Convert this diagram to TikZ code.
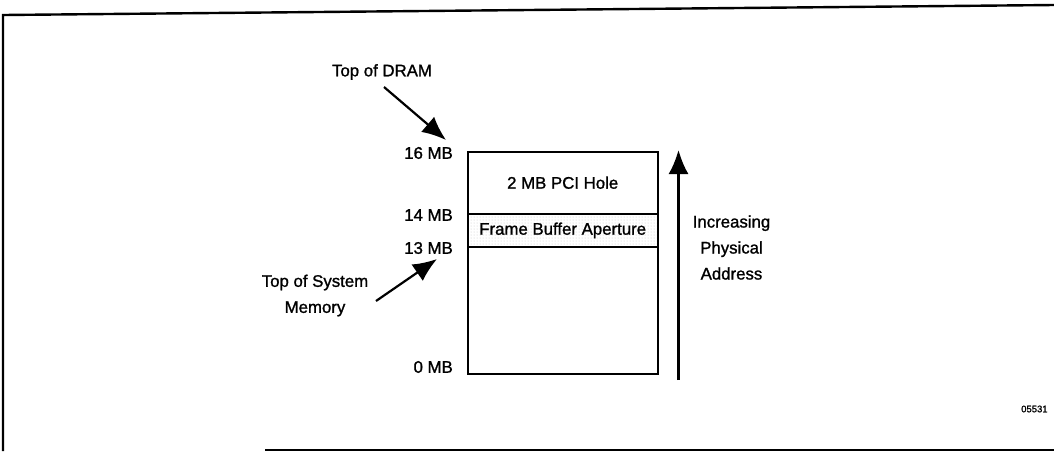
\documentclass[tikz,border=0pt]{standalone}
\usepackage{fontspec}
\setmainfont[FakeBold=1.2]{Liberation Sans}
\usetikzlibrary{arrows.meta,patterns}
\begin{document}
\begin{tikzpicture}[x=1pt,y=-1pt,
  lbl/.style={font=\fontsize{16.8}{26}\selectfont, inner sep=0pt, align=center},
  region/.style={draw, line width=2pt, minimum width=190pt, anchor=north west, inner sep=0pt},
  bigarrow/.style={line width=2.2pt, -{Latex[length=24pt,width=20pt]}},
  frame/.style={line width=2.4pt}]
\useasboundingbox (0,0) rectangle (1054,451);
% outer frame
\draw[frame] (3,451) -- (3,15) -- (1054,5);
\draw[frame] (265,450) -- (1054,450);
% memory map
\node[region, minimum height=62pt] (hole) at (466.7,150.7) {};
\node[region, minimum height=33.3pt, pattern=dots, pattern color=gray!45] (fba) at (466.7,212.7) {};
\node[region, minimum height=127pt] (sys) at (466.7,246) {};
\node[lbl] (holet) at (hole.center) {2 MB PCI Hole};
\node[lbl] (fbat) at (fba.center) {Frame Buffer Aperture};
% address labels
\node[lbl, anchor=east] (m16) at (453,153) {16 MB};
\node[lbl, anchor=east] (m14) at (453,215) {14 MB};
\node[lbl, anchor=east] (m13) at (453,248) {13 MB};
\node[lbl, anchor=east] (m0) at (453,367) {0 MB};
% pointers
\node[lbl] (dram) at (382,72) {Top of DRAM};
\coordinate (dramtail) at (384,87);
\coordinate (dramtip) at (446,140);
\draw[bigarrow] (dramtail) -- (dramtip);
\node[lbl] (sysmem) at (315,295.5) {Top of System\\Memory};
\coordinate (systail) at (376,301);
\coordinate (systip) at (437,259);
\draw[bigarrow] (systail) -- (systip);
% increasing address
\coordinate (upbot) at (678.5,380);
\coordinate (uptop) at (678.5,150);
\draw[bigarrow] (upbot) -- (uptop);
\node[lbl] (incr) at (731.5,247.5) {Increasing\\Physical\\Address};
% figure number
\node[font=\fontsize{9.5}{10}\selectfont, inner sep=0pt, anchor=west] (fig) at (1021,409) {05531};
\end{tikzpicture}
\end{document}
